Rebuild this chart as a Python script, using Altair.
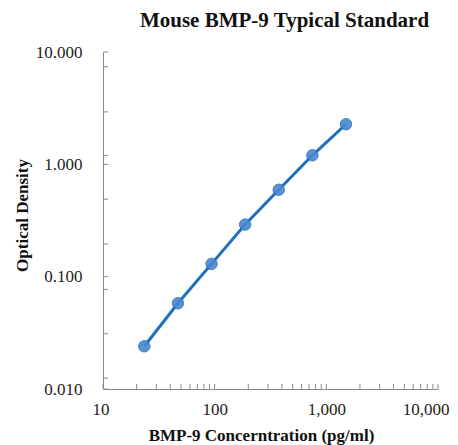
import altair as alt
import pandas as pd

# Standard curve data
conc = [23.44, 46.88, 93.75, 187.5, 375, 750, 1500]
od = [0.024, 0.058, 0.130, 0.291, 0.594, 1.203, 2.275]

# Axis tick values
x_major = [10, 100, 1000, 10000]
x_minor = [20, 30, 40, 50, 60, 70, 80, 90,
           200, 300, 400, 500, 600, 700, 800, 900,
           2000, 3000, 4000, 5000, 6000, 7000, 8000, 9000]
y_major = [0.01, 0.1, 1, 10]
y_minor = [7.4, 2.93, 1.2, 0.49, 0.195, 0.077, 0.031, 0.0125]

W, H = 335, 337
SERIF = "Liberation Serif"
AXIS_COL = "#8a8a8a"

df = pd.DataFrame({"conc": conc, "od": od})
xt = pd.DataFrame({"v": x_major + x_minor})
yt = pd.DataFrame({"v": y_major + y_minor})

xscale = alt.Scale(type="log", domain=[10, 10000])
yscale = alt.Scale(type="log", domain=[0.01, 10])

xaxis = alt.Axis(values=x_major, format=",", tickSize=0, grid=False,
                 domainColor=AXIS_COL, labelFont=SERIF, labelFontSize=17,
                 labelColor="#222", labelPadding=12,
                 labelFlush=True, labelFlushOffset=11,
                 title="BMP-9 Concerntration (pg/ml)", titleFont=SERIF,
                 titleFontSize=17, titleFontWeight="bold", titleColor="#111",
                 titleX=158, titleY=51, titleBaseline="alphabetic")
yaxis = alt.Axis(values=y_major, format=".3f", tickSize=0, grid=False,
                 domainColor=AXIS_COL, labelFont=SERIF, labelFontSize=17,
                 labelColor="#222", labelPadding=21,
                 title="Optical Density", titleFont=SERIF, titleFontSize=17,
                 titleFontWeight="bold", titleColor="#111",
                 titleX=-76, titleY=163, titleAngle=270,
                 titleBaseline="alphabetic", labelFlush=False)

line = alt.Chart(df).mark_line(color="#1f6fbf", strokeWidth=3).encode(
    x=alt.X("conc:Q", scale=xscale, axis=xaxis),
    y=alt.Y("od:Q", scale=yscale, axis=yaxis),
)
pts = alt.Chart(df).mark_circle(size=130, color="#4a87d0", opacity=0.9,
                                stroke="#2f6fb8", strokeWidth=1).encode(
    x=alt.X("conc:Q", scale=xscale),
    y=alt.Y("od:Q", scale=yscale),
)
xticks = alt.Chart(xt).mark_rule(color=AXIS_COL, strokeWidth=1).encode(
    x=alt.X("v:Q", scale=xscale),
    y=alt.value(H - 5), y2=alt.value(H),
)
yticks = alt.Chart(yt).mark_rule(color=AXIS_COL, strokeWidth=1).encode(
    y=alt.Y("v:Q", scale=yscale),
    x=alt.value(0), x2=alt.value(5),
)

chart = alt.layer(xticks, yticks, line, pts).properties(
    width=W, height=H,
    title=alt.TitleParams("Mouse BMP-9 Typical Standard", font=SERIF,
                          fontSize=21, fontWeight="bold", color="#111",
                          anchor="middle", dx=14, offset=12),
    autosize=alt.AutoSizeParams(type="none"),
    padding={"left": 95, "top": 44, "right": 12, "bottom": 56},
).configure_view(stroke=None)

chart.save("out.html", embed_options={"renderer": "svg", "actions": False})
